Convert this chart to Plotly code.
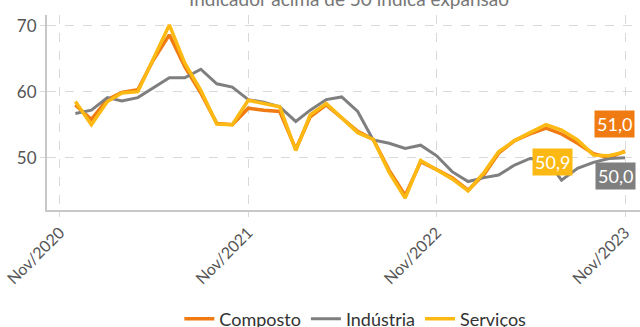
import plotly.graph_objects as go
import pandas as pd

months = pd.date_range("2020-12-01", "2023-11-01", freq="MS")

composto = [58.0, 55.8, 58.8, 59.9, 60.3, 64.8, 68.6, 63.8, 59.8, 55.2, 55.0, 57.5,
            57.2, 57.0, 51.3, 56.2, 58.0, 56.1, 54.0, 52.8, 48.1, 44.3, 49.4, 48.2,
            47.0, 45.1, 47.5, 50.7, 52.6, 53.6, 54.5, 53.6, 52.2, 50.6, 50.0, 51.0]
industria = [56.7, 57.2, 59.1, 58.6, 59.1, 60.6, 62.1, 62.1, 63.4, 61.2, 60.7, 58.8,
             58.4, 57.7, 55.5, 57.2, 58.8, 59.2, 57.0, 52.7, 52.2, 51.4, 51.9, 50.3,
             47.9, 46.4, 47.0, 47.4, 48.9, 49.9, 49.8, 46.6, 48.4, 49.3, 49.9, 50.0]
servicos = [58.5, 55.0, 58.5, 59.8, 60.0, 65.0, 70.1, 64.3, 60.2, 55.1, 55.0, 58.7,
            58.2, 57.7, 51.1, 56.5, 58.2, 56.1, 53.8, 52.8, 47.8, 43.9, 49.6, 48.2,
            46.8, 45.0, 47.8, 50.9, 52.6, 53.8, 55.0, 54.2, 52.7, 50.4, 50.3, 50.9]

tick_vals = ["2020-11-01", "2021-11-01", "2022-11-01", "2023-11-01"]
tick_text = ["Nov/2020", "Nov/2021", "Nov/2022", "Nov/2023"]
y_ticks = [50, 60, 70]

title_text = "Indicador acima de 50 indica expansão"

C_ORANGE = "#F07B12"
C_GRAY = "#7F7F7F"
C_YELLOW = "#FDB913"

fig = go.Figure()
fig.add_trace(go.Scatter(x=months, y=composto, name="Composto", mode="lines",
                         line=dict(color=C_ORANGE, width=3.5)))
fig.add_trace(go.Scatter(x=months, y=industria, name="Indústria", mode="lines",
                         line=dict(color=C_GRAY, width=3)))
fig.add_trace(go.Scatter(x=months, y=servicos, name="Serviços", mode="lines",
                         line=dict(color=C_YELLOW, width=3.5)))

def end_label(val, color, xs, ys):
    fig.add_annotation(x=months[-1], y=val, xref="x", yref="y",
                       text=f"{val:.1f}".replace(".", ","), showarrow=False,
                       font=dict(family="Lato", size=18, color="white"),
                       bgcolor=color, borderpad=2, xshift=xs, yshift=ys)

end_label(composto[-1], C_ORANGE, -11, 27)
end_label(industria[-1], C_GRAY, -10, -18)
end_label(servicos[-1], C_YELLOW, -73, -10)

fig.add_annotation(x=0.51, y=1.085, xref="paper", yref="paper", text=title_text,
                   showarrow=False, font=dict(family="Lato", size=19, color="#777"),
                   yanchor="middle")

fig.update_layout(
    width=640, height=327,
    margin=dict(l=47, r=0, t=15, b=117, autoexpand=False),
    plot_bgcolor="white", paper_bgcolor="white",
    font=dict(family="Lato", color="#555"),
    showlegend=True,
    legend=dict(orientation="h", x=0.52, xanchor="center", y=-0.465, yanchor="top",
                font=dict(family="Lato", size=18, color="#333"),
                traceorder="normal"),
)
fig.update_xaxes(range=["2020-10-07", "2023-11-30"], tickvals=tick_vals, ticktext=tick_text,
                 tickangle=-45, tickfont=dict(size=16, color="#555"), automargin=False,
                 showgrid=True, gridcolor="#d9d9d9", griddash="dash", gridwidth=1,
                 showline=True, linecolor="#c8c8c8", linewidth=2,
                 ticks="outside", ticklen=5, tickcolor="#d9d9d9", zeroline=False)
fig.update_yaxes(range=[42.1, 71.6], tickvals=y_ticks, automargin=False,
                 tickfont=dict(size=17, color="#555"),
                 showgrid=True, gridcolor="#d9d9d9", griddash="dash", gridwidth=1,
                 showline=True, linecolor="#c8c8c8", linewidth=2,
                 ticks="outside", ticklen=5, tickcolor="#d9d9d9", zeroline=False)

fig.write_html("out.html")
